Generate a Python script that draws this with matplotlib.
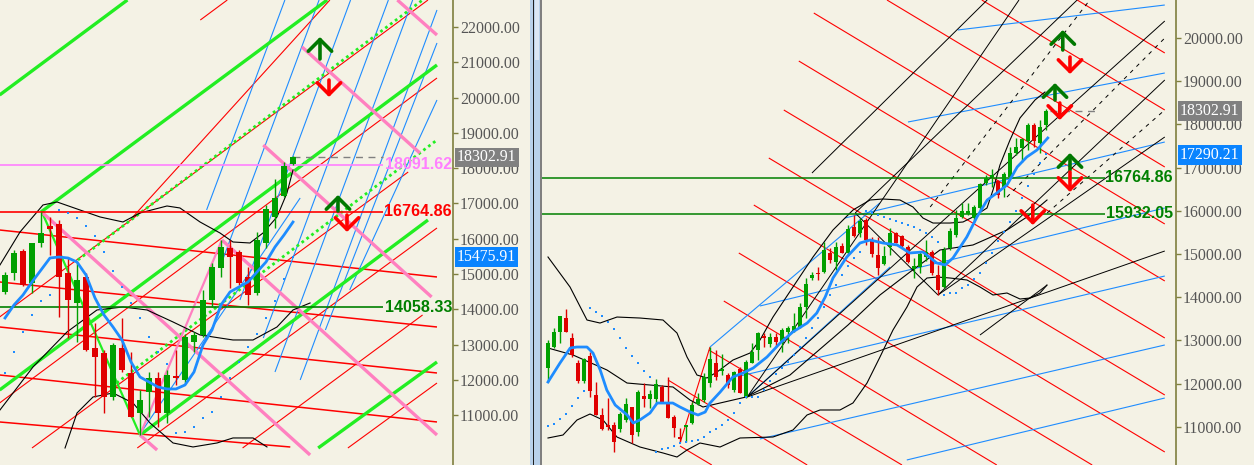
"""
两联 K 线截图复刻: 左 = 周线 (带通道/速度线), 右 = 日线 (带江恩角度线)
"""
import matplotlib
matplotlib.use('Agg')
import matplotlib.pyplot as plt
import matplotlib.transforms as mtransforms
from matplotlib.patches import Rectangle
import numpy as np

BG = '#F4F2E5'
OLIVE = '#7f7f3f'
UP_C = '#00A000'
DN_C = '#E00000'
MA_C = '#1E8CFF'
plt.rcParams['font.family'] = ['Liberation Serif', 'DejaVu Serif']

# ============================================================
# 1. 左图数据 (x = K线序号, y = 价格)
# ============================================================
l_open = [14493, 15031, 15654, 14748, 15881, 16362, 16419, 15031, 14181, 14918, 12906,
          12764, 11518, 12906, 12198, 11065, 11659, 12056, 11065, 12113, 12000, 13076,
          13274, 14266, 15172, 15739, 15626, 14918, 14464, 15881, 16617, 17212, 18119]
l_high = [15059, 15683, 15711, 15881, 16759, 16617, 16532, 15484, 15342, 15031, 13614,
          12850, 13048, 13756, 12793, 11716, 12226, 12226, 12282, 12850, 13303, 13359,
          14549, 15314, 15966, 15966, 15683, 15201, 16192, 16957, 17694, 18176, 18346]
l_low = [14436, 14833, 14662, 14464, 15768, 15541, 13784, 13189, 13076, 12821, 11518,
         11065, 11433, 12226, 10951, 10441, 10951, 10668, 10781, 11858, 11915, 12793,
         13218, 14068, 14918, 14606, 14691, 14125, 14408, 15739, 16306, 17184, 18091]
l_close = [14974, 15598, 14691, 15881, 16164, 16277, 14918, 14266, 14833, 12850, 12651,
           11518, 12991, 12282, 10951, 11433, 12056, 11065, 12141, 12056, 13218, 13274,
           14266, 15201, 15768, 15484, 14748, 14408, 15966, 16844, 17156, 18062, 18303]
l_ma = [13756, 14125, 14408, 14776, 15116, 15456, 15484, 15456, 15342, 14974, 14323,
        13841, 13501, 13133, 12510, 12085, 11943, 11801, 11745, 11745, 11858, 12226,
        12991, 13416, 14125, 14493, 14635, 14776, 15059, 15342, 15768, 16107, 16475]
l_sar = [12198, 12793, 13359, 13841, 14238, 14408, 16816, 16731, 16589, 16362, 16079,
         15626, 15088, 14635, 14181, 13756, 13218, 12793, 12453, 10498, 10526, 10668,
         10923, 11093, 11518, 12056, 12510, 12935, 13303, 13756, 14238, 14861, 15484]

# 布林带 (读图取样点)
l_bb_up_x = [-0.56, 1.67, 4.22, 5.78, 8.33, 10.56, 13.11, 15, 18, 19.44, 21.67, 23.89,
             25.33, 27.22, 28.67, 30.22, 31.33, 32]
l_bb_up_y = [15258, 16193, 16958, 17043, 16816, 16618, 16476, 16731, 16929, 16873, 16476,
             16164, 15909, 15881, 16164, 16618, 17297, 17949]
l_bb_mid_x = [-0.56, 3.11, 6.89, 10.22, 13.11, 15.78, 18.67, 21.67, 25.33, 27.56, 30.22, 32, 33.9]
l_bb_mid_y = [11150, 12368, 13360, 13983, 14068, 13983, 13643, 13275, 13133, 13133, 13501,
              13983, 14181]
l_bb_lo_x = [6.67, 8, 9.78, 12, 14.22, 16.11, 18.67, 20.89, 23.56, 25.33, 27.56, 29.11]
l_bb_lo_y = [10073, 11065, 11518, 11631, 11348, 10782, 10215, 10102, 10215, 10357, 10357, 10102]

# 画线 (x0, y0, x1, y1)
l_lime_thick = [(-0.6, 20074, 13.6, 22765), (4.0, 16760, 35.8, 22765),
                (-0.6, 11716, 48.0, 20924), (15.0, 10441, 47.0, 16532),
                (34.8, 10073, 48.0, 12510)]
l_lime_dotted = [(8.1, 15399, 46.4, 22765), (12.4, 11915, 48.0, 18799)]
l_lime_zigzag = [(4.1, 16759, 15.0, 10441)]
l_pink_thick = [(28.7, 18657, 47.4, 14351), (33.0, 21434, 46.1, 18430),
                (43.6, 22765, 48.0, 21773), (24.1, 15966, 48.0, 10441),
                (4.2, 16731, 33.9, 9875), (15.0, 10441, 16.9, 10016)]
l_pink_zigzag = [(15.0, 10441, 24.1, 15966)]
l_blue_lines = [(22.4, 16816, 31.1, 22765), (24.1, 15342, 34.9, 22765),
                (26.1, 14266, 38.4, 22765), (28.7, 13189, 42.6, 22765),
                (30.0, 12226, 45.3, 22765), (32.8, 12000, 48.0, 22482),
                (35.6, 13416, 48.0, 21547), (38.3, 14549, 48.0, 19932),
                (15.3, 10583, 32.8, 17156)]
l_red_flat = [(-0.6, 16249, 48, 14918), (-0.6, 14776, 48, 13501), (-0.6, 13501, 48, 12198),
              (-0.6, 12141, 48, 10810), (-0.6, 10810, 31.7, 10101)]
l_red_diag = [(-0.6, 13784, 47, 22765), (-0.6, 11348, 48, 20555), (3, 10073, 44.8, 17892),
              (14.7, 10073, 48, 16306), (26.4, 10073, 46.4, 13841), (38.1, 10073, 48, 11914),
              (14.2, 16617, 36.1, 22765), (21.7, 22198, 24.7, 22765)]

l_levels = [18091.62, 16764.86, 14058.33]
l_level_colors = ['#FF80FF', '#FF0000', '#008000']
l_last = 18302.91
l_ma_last = 15475.91
l_arrows_up = [(35.0, 21094, 21717), (37.0, 16787, 17241)]
l_arrows_dn = [(36.0, 20498, 20017), (38.0, 16674, 16193)]
l_ticks = list(range(11000, 23000, 1000))

# ============================================================
# 2. 右图数据
# ============================================================
r_open = [12363, 12849, 13197, 13521, 13058, 12479, 12063, 12641, 11739, 11276, 11044, 11044,
          10952, 11160, 11461, 10882, 11716, 11646, 11646, 11924, 11553, 11230, 10766, 10998,
          11091, 11530, 11623, 12016, 12479, 12294, 12201, 11854, 12340, 11692, 12479, 12780,
          13104, 12919, 13081, 12942, 13197, 13220, 13312, 13775, 14446, 14562, 14585, 15025,
          14816, 15187, 15025, 15626, 15488, 15788, 15325, 14978, 14770, 15163, 15488, 15418,
          15163, 14654, 14700, 14932, 15048, 14515, 14237, 15140, 15441, 15858, 15927, 15834,
          16066, 16644, 16783, 16691, 16552, 16783, 17339, 17454, 17616, 17986, 17570, 17986]
r_high = [13012, 13290, 13567, 13729, 13174, 12549, 12595, 12734, 12039, 11438, 11669, 11114,
          11345, 11669, 11461, 11854, 12016, 11854, 12109, 11970, 12155, 11276, 10975, 11044,
          11577, 11785, 12248, 12849, 12780, 12688, 12248, 12294, 12387, 12549, 12942, 13197,
          13174, 13174, 13174, 13290, 13335, 13636, 13867, 14446, 14585, 14700, 15279, 15140,
          15279, 15256, 15673, 15904, 15834, 15834, 15395, 15395, 15187, 15603, 15511, 15441,
          15210, 14909, 15048, 15325, 15094, 14747, 15163, 15603, 16019, 16181, 16181, 16135,
          16644, 16830, 16968, 16714, 16899, 17478, 17686, 17686, 18033, 18033, 18102, 18357]
r_low = [12039, 12826, 12942, 13197, 12618, 12016, 12016, 11692, 11276, 10929, 10929, 10420,
         10882, 11114, 10628, 10789, 11461, 11438, 11553, 11553, 11206, 10766, 10651, 10651,
         11068, 11507, 11577, 11924, 12086, 12201, 11901, 11808, 11785, 11669, 12479, 12549,
         12849, 12849, 12849, 12734, 12942, 13197, 13290, 13521, 14399, 14399, 14562, 14793,
         14631, 15025, 14978, 15395, 15395, 15210, 14932, 14515, 14747, 14978, 15256, 15163,
         14793, 14446, 14562, 14840, 14515, 14053, 14214, 15094, 15395, 15834, 15904, 15719,
         16019, 16598, 16552, 16297, 16320, 16760, 17292, 17130, 17408, 17478, 17339, 17871]
r_close = [12942, 13197, 13567, 13197, 12664, 12063, 12572, 11831, 11276, 10952, 10998, 10651,
           11299, 11530, 10813, 11808, 11646, 11762, 11993, 11553, 11206, 10975, 10720, 11044,
           11507, 11646, 12155, 12572, 12155, 12340, 11970, 12271, 11785, 12502, 12734, 13174,
           13058, 13081, 12965, 13243, 13290, 13335, 13775, 14307, 14515, 14538, 15094, 14863,
           15163, 15025, 15580, 15418, 15765, 15325, 15001, 14677, 14955, 15488, 15256, 15187,
           14816, 14724, 15001, 15048, 14562, 14168, 15094, 15534, 15834, 15996, 15996, 16089,
           16621, 16760, 16830, 16367, 16853, 17339, 17478, 17663, 17986, 17616, 17940, 18303]
r_sar = [11021, 11068, 11183, 11299, 11484, 11669, 11831, 13752, 13660, 13567, 13428, 13266,
         13058, 12826, 12641, 12479, 12294, 12155, 10420, 10489, 10512, 10559, 10628, 10651,
         10674, 10697, 10766, 10882, 10952, 11044, 11160, 11322, 11553, 11692, 11692, 11692,
         11854, 12063, 12225, 12363, 12502, 12664, 12849, 13058, 13290, 13521, 13775, 14053,
         14284, 14515, 14724, 14909, 15048, 16000, 15950, 15904, 15858, 15811, 15765, 15719,
         15673, 15626, 15557, 15488, 15395, 15279, 14053, 14099, 14099, 14214, 14284, 14423,
         14562, 14793, 15025, 15302, 15511, 15742, 15996, 16297, 16575, 16853, 17107, 17315]
r_ma_x = [0, 2, 3.7, 4.8, 6.5, 7.5, 8.7, 9.8, 11.2, 13.2, 14.2, 15.3, 17, 18.2, 20.8, 22,
          23.7, 25, 26.2, 27, 28.7, 30.8, 32.5, 34.2, 36.5, 38.7, 40.8, 43.2, 44.8, 46.2,
          47.5, 49.8, 52, 53.7, 55.8, 58.2, 60.3, 62.5, 64.8, 66.2, 67.5, 69.8, 71.5, 73.2,
          74.8, 76.5, 78.2, 79.8, 81.5, 83.3]
r_ma_y = [12039, 12479, 12826, 12849, 12849, 12710, 12317, 11854, 11507, 11276, 11091, 11160,
          11322, 11553, 11553, 11461, 11345, 11276, 11345, 11553, 11808, 12155, 12248, 12363,
          12618, 12942, 13197, 13405, 13636, 14006, 14446, 14932, 15256, 15325, 15256, 15210,
          15025, 15048, 14793, 14747, 14909, 15395, 15858, 16251, 16413, 16598, 17015, 17246,
          17408, 17686]
r_bb_up_x = [0, 3.67, 6.5, 8.67, 11.5, 15.33, 19.17, 21.5, 23.17, 24.83, 26.5, 28.17, 30.83,
             33.67, 35.33, 37.5, 40.83, 44.17, 47.5, 50.83, 53.67, 55.83, 58.67, 60.83, 62.5,
             64.17, 67, 69.17, 70.83, 73.17, 74.17, 75.33, 77, 78.67, 81.17, 82.83]
r_bb_up_y = [14932, 14238, 13474, 13404, 13543, 13520, 13474, 13173, 12618, 12201, 12132,
             12271, 12548, 12710, 13011, 13543, 14238, 14932, 15557, 16019, 16251, 16274,
             16251, 16089, 15834, 15718, 15718, 15742, 15858, 16066, 16482, 17061, 17639,
             18149, 18565, 18750]
r_bb_mid_x = [0, 4.17, 9.83, 13.17, 17, 20.83, 23.67, 25.83, 28.67, 33, 40.33, 50, 55.33,
              60.33, 65.33, 70.83, 76.5, 79.83, 83.17]
r_bb_mid_y = [12826, 12664, 12317, 12016, 11970, 11924, 11623, 11461, 11553, 11692, 12201,
              13358, 14053, 14585, 15094, 15210, 15557, 15858, 16251]
r_bb_lo_x = [0, 2.5, 4.83, 7, 9.17, 11.5, 15.33, 19.17, 21.5, 23.17, 25.33, 28.67, 32, 37.5,
             40.83, 43.17, 45.33, 48.67, 50.83, 53.17, 55.33, 57.5, 59.83, 61.5, 63.17, 64.83,
             67, 69.83, 72, 74.17, 76.5, 78.67, 80.33, 82, 83.17]
r_bb_lo_y = [10744, 10813, 11160, 11299, 11160, 10766, 10535, 10397, 10304, 10466, 10628,
             10535, 10744, 10767, 10929, 11276, 11392, 11392, 11554, 12016, 12618, 13243,
             13775, 14238, 14446, 14469, 14446, 14400, 14238, 14053, 14099, 13960, 13983,
             14099, 14284]

r_red_lines = [(88.2, 20879, 102.8, 19653), (72.3, 20879, 102.8, 18334),
               (56.5, 20879, 102.8, 17015), (44.3, 20578, 102.8, 15696),
               (41.8, 19467, 102.8, 14377), (39.3, 18334, 102.8, 13058),
               (36.8, 17223, 102.8, 11739), (34.3, 16135, 102.8, 10420),
               (31.8, 15025, 90.7, 10119), (29.3, 13914, 74.8, 10119),
               (26.8, 12780, 59.0, 10119), (20.0, 12086, 43.2, 10119),
               (22.0, 10558, 27.3, 10119), (22.0, 10628, 27.0, 12849)]
r_blue_lines = [(68.3, 20185, 102.8, 20763), (60.0, 18056, 102.8, 19190),
                (27.0, 12849, 55.3, 16181), (33.2, 11692, 57.0, 14701),
                (49.5, 15835, 102.8, 17593), (35.3, 13798, 102.8, 16066),
                (32.0, 12178, 102.8, 14492), (35.3, 10721, 102.8, 12896),
                (59.8, 10235, 102.8, 11669)]
r_black_lines = [(44.0, 16876, 73.2, 20879), (51.2, 15950, 88.2, 20879),
                 (33.2, 11692, 78.5, 20879), (33.2, 11692, 102.8, 20393),
                 (33.2, 11692, 102.8, 15071), (65.0, 14053, 102.8, 19028),
                 (65.0, 14053, 102.8, 17709), (72.0, 13127, 83.2, 14284),
                 (51.2, 15950, 65.0, 14053)]
r_black_dashed = [(63.7, 16089, 90.3, 20879), (76.5, 16320, 102.8, 19999),
                  (83.2, 15950, 102.8, 18334)]

r_levels = [16764.86, 15932.05]
r_last = 18302.91
r_ma_last = 17290.21
r_arrows_up = [(85.8, 19722, 20185), (84.5, 18565, 18958), (87.0, 16945, 17339)]
r_arrows_dn = [(87.0, 19560, 19166), (85.3, 18496, 18102), (87.0, 16899, 16436),
               (80.8, 16135, 15672)]
r_ticks = list(range(11000, 21000, 1000))


# ============================================================
# 3. 绘图工具
# ============================================================
def draw_candles(ax, o, h, l, c, width):
    o, h, l, c = map(np.asarray, (o, h, l, c))
    x = np.arange(len(o))
    cols = np.where(c >= o, UP_C, DN_C)
    ax.vlines(x, l, h, colors=cols, lw=1.0, zorder=5)
    body = np.maximum(np.abs(c - o), 35)
    ax.bar(x, body, bottom=np.minimum(o, c), width=width, color=cols, lw=0, zorder=6)


def draw_segs(ax, segs, **kw):
    for x0, y0, x1, y1 in segs:
        ax.plot([x0, x1], [y0, y1], solid_capstyle='butt', **kw)


def draw_arrows(ax, arrows, color):
    for x, tail, tip in arrows:
        ax.annotate('', xy=(x, tip), xytext=(x, tail), zorder=9,
                    arrowprops=dict(arrowstyle='->,head_length=0.42,head_width=0.42',
                                    color=color, lw=2.6, mutation_scale=20,
                                    shrinkA=0, shrinkB=0))


def style_axis(ax, ticks, xlim, ylim):
    ax.set_facecolor(BG)
    ax.set_xlim(*xlim)
    ax.set_ylim(*ylim)
    for s in ('top', 'left', 'bottom'):
        ax.spines[s].set_visible(False)
    ax.spines['right'].set_color(OLIVE)
    ax.spines['right'].set_linewidth(1.2)
    ax.set_xticks([])
    ax.yaxis.tick_right()
    ax.set_yticks(ticks)
    ax.set_yticklabels([f'{t:.2f}' for t in ticks])
    ax.tick_params(axis='y', colors=OLIVE, labelcolor='#555555', length=3.5,
                   width=1, pad=1.5, labelsize=11.4)


def price_box(ax, y, text, fc):
    tr = mtransforms.blended_transform_factory(ax.transAxes, ax.transData)
    ax.text(1.0 + 4 / ax.bbox.width, y, text, transform=tr, ha='left', va='center',
            color='white', fontsize=11.4, zorder=20, clip_on=False,
            bbox=dict(boxstyle='square,pad=0.12', fc=fc, ec='none'))


def level_label(ax, y, text, color, xfrac):
    tr = mtransforms.blended_transform_factory(ax.transAxes, ax.transData)
    ax.text(xfrac, y, text, transform=tr, ha='right', va='center', color=color,
            fontsize=11.6, fontweight='bold', family=['Liberation Sans', 'DejaVu Sans'],
            zorder=20)


# ============================================================
# 4. 画布
# ============================================================
W, H = 1254, 465
fig = plt.figure(figsize=(W / 100, H / 100), dpi=100, facecolor=BG)
axL = fig.add_axes([0, 0, 453 / W, 1])
axR = fig.add_axes([542 / W, 0, 634 / W, 1])

# 中间滚动条分隔
fig.patches.append(Rectangle((530 / W, 0), 12 / W, 1, transform=fig.transFigure,
                             fc='#B9D1EA', ec='none', zorder=0))
fig.patches.append(Rectangle((533 / W, 0), 1 / W, 1, transform=fig.transFigure,
                             fc='#202020', ec='none', zorder=1))
fig.patches.append(Rectangle((540 / W, 0), 2 / W, 1, transform=fig.transFigure,
                             fc='#808080', ec='none', zorder=1))
fig.patches.append(Rectangle((535 / W, 0.87), 4 / W, 0.13, transform=fig.transFigure,
                             fc='#DCE7F4', ec='none', zorder=1))

# ---------------- 左图 ----------------
style_axis(axL, l_ticks, (-0.556, 49.78), (9591, 22765))
draw_segs(axL, l_red_flat, color='#FF0000', lw=1.1, zorder=2)
draw_segs(axL, l_red_diag, color='#FF0000', lw=0.8, zorder=2)
draw_segs(axL, l_blue_lines, color='#1E8CFF', lw=0.8, zorder=2)
draw_segs(axL, l_lime_thick, color='#22EE22', lw=2.4, zorder=3)
draw_segs(axL, l_lime_dotted, color='#22EE22', lw=2.0, ls=(0, (1, 1.2)), zorder=3)
draw_segs(axL, l_lime_zigzag, color='#22EE22', lw=1.6, zorder=3)
draw_segs(axL, l_pink_thick, color='#FF80C0', lw=2.4, zorder=3)
draw_segs(axL, l_pink_zigzag, color='#FF80C0', lw=1.6, zorder=3)
axL.plot(l_bb_up_x, l_bb_up_y, color='black', lw=0.8, zorder=4)
axL.plot(l_bb_mid_x, l_bb_mid_y, color='black', lw=0.8, zorder=4)
axL.plot(l_bb_lo_x, l_bb_lo_y, color='black', lw=0.8, zorder=4)

for y, col in zip(l_levels, l_level_colors):
    axL.hlines(y, -0.6, 42, color=col, lw=1.2, zorder=4)
axL.hlines(l_last, 32, 42, color='#808080', lw=1.0, ls=(0, (5, 4)), zorder=4)

draw_candles(axL, l_open, l_high, l_low, l_close, width=0.6)
axL.plot(range(len(l_ma)), l_ma, color=MA_C, lw=2.0, zorder=7)
axL.plot(range(len(l_sar)), l_sar, ls='none', marker='s', ms=1.8, color=MA_C, mew=0, zorder=7)
draw_arrows(axL, l_arrows_up, '#007800')
draw_arrows(axL, l_arrows_dn, '#FF0000')

for y, col, txt in zip(l_levels, l_level_colors, ['18091.62', '16764.86', '14058.33']):
    level_label(axL, y, txt, col, 452 / 453)
price_box(axL, l_last, '18302.91', '#808080')
price_box(axL, l_ma_last, '15475.91', '#0A84FF')

# ---------------- 右图 ----------------
style_axis(axR, r_ticks, (-1.0, 104.67), (10119, 20879))
draw_segs(axR, r_red_lines, color='#FF0000', lw=0.8, zorder=2)
draw_segs(axR, r_blue_lines, color='#1E8CFF', lw=0.8, zorder=2)
draw_segs(axR, r_black_lines, color='black', lw=0.7, zorder=2)
draw_segs(axR, r_black_dashed, color='black', lw=0.7, ls=(0, (4, 5)), zorder=2)
axR.plot(r_bb_up_x, r_bb_up_y, color='black', lw=0.8, zorder=4)
axR.plot(r_bb_mid_x, r_bb_mid_y, color='black', lw=0.8, zorder=4)
axR.plot(r_bb_lo_x, r_bb_lo_y, color='black', lw=0.8, zorder=4)

for y in r_levels:
    axR.hlines(y, -1.0, 92.8, color='#008000', lw=1.1, zorder=4)
axR.hlines(r_last, 83.7, 92, color='#808080', lw=1.0, ls=(0, (5, 4)), zorder=4)

draw_candles(axR, r_open, r_high, r_low, r_close, width=0.78)
axR.plot(r_ma_x, r_ma_y, color=MA_C, lw=2.0, zorder=7)
axR.plot(range(len(r_sar)), r_sar, ls='none', marker='s', ms=1.8, color=MA_C, mew=0, zorder=7)
draw_arrows(axR, r_arrows_up, '#007800')
draw_arrows(axR, r_arrows_dn, '#FF0000')

for y, txt in zip(r_levels, ['16764.86', '15932.05']):
    level_label(axR, y, txt, '#008000', 631 / 634)
price_box(axR, r_last, '18302.91', '#808080')
price_box(axR, r_ma_last, '17290.21', '#0A84FF')

fig.savefig('out.png', dpi=100, facecolor=BG)
plt.close(fig)
